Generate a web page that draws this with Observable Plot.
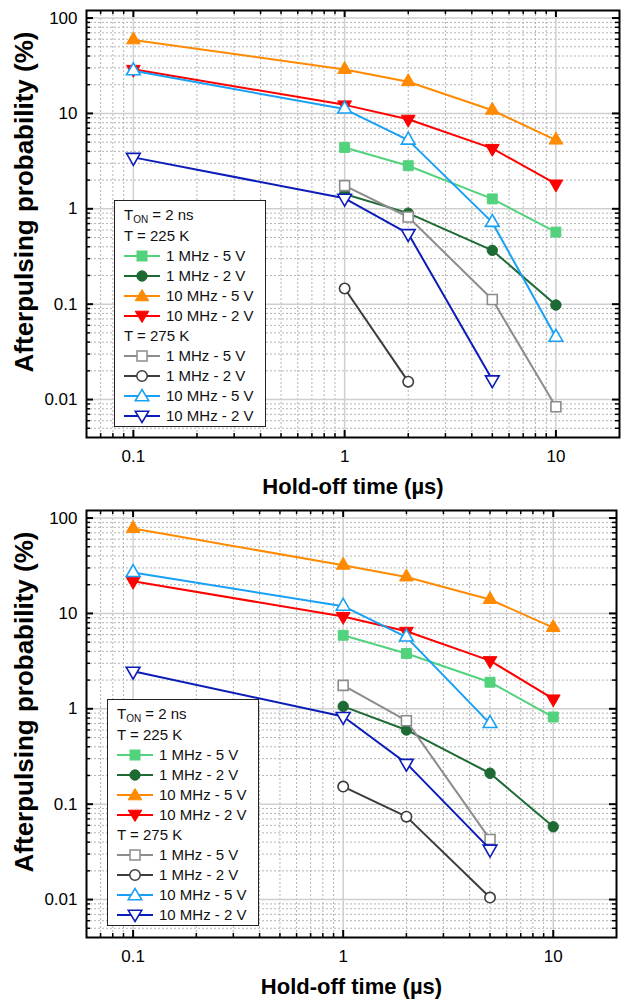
<!DOCTYPE html>
<html><head><meta charset="utf-8">
<script src="https://cdn.jsdelivr.net/npm/d3@7"></script>
<script src="https://cdn.jsdelivr.net/npm/@observablehq/plot@0.6"></script>
<style>
body{margin:0;background:#fff;font-family:"Liberation Sans",Arial,sans-serif;}
.panel{position:relative;width:633px;height:500px;}
.panel svg{display:block;}
.legend{position:absolute;background:#fff;border:1px solid #222;box-sizing:border-box;font-size:15px;color:#111;width:152px;height:227px;}
.legend .row{position:absolute;left:9px;height:20px;line-height:20px;white-space:nowrap;}
.legend .row svg{position:absolute;left:0;top:2px;}
.legend .row span.lbl{position:absolute;left:42px;top:0;}
.legend sub{font-size:10px;vertical-align:-3px;}
</style></head><body>
<div id="top" class="panel"></div>
<div id="bottom" class="panel"></div>
<script>
// ---- data ----
const holdOff = [0.1, 1, 2, 5, 10];
const seriesLabels = ["1 MHz - 5 V", "1 MHz - 2 V", "10 MHz - 5 V", "10 MHz - 2 V"];
const tempLabels = ["T = 225 K", "T = 275 K"];
const colors225 = ["#52d27c", "#1e6a34", "#ff8a00", "#ff0000"];
const colors275 = ["#8c8c8c", "#3c3c3c", "#18a0f5", "#0c1cb8"];
const symbolNames = ["square", "circle", "triangle", "triangleDown"];
const xTickValues = [0.1, 1, 10];
const yTickValues = [0.01, 0.1, 1, 10, 100];

// top panel (%), null = no measurement
const top225_1MHz_5V  = [null, 4.4, 2.83, 1.27, 0.57];
const top225_1MHz_2V  = [null, 1.43, 0.90, 0.367, 0.098];
const top225_10MHz_5V = [59, 28.9, 21.5, 10.8, 5.25];
const top225_10MHz_2V = [29, 12.3, 8.7, 4.3, 1.82];
const top275_1MHz_5V  = [null, 1.75, 0.82, 0.112, 0.0084];
const top275_1MHz_2V  = [null, 0.146, 0.0154, null, null];
const top275_10MHz_5V = [28, 11.1, 5.25, 0.72, 0.045];
const top275_10MHz_2V = [3.46, 1.29, 0.55, 0.0161, null];

// bottom panel (%)
const bot225_1MHz_5V  = [null, 5.9, 3.8, 1.9, 0.82];
const bot225_1MHz_2V  = [null, 1.06, 0.60, 0.211, 0.058];
const bot225_10MHz_5V = [77.8, 32, 24.1, 14, 7.1];
const bot225_10MHz_2V = [21.7, 9.3, 6.5, 3.2, 1.27];
const bot275_1MHz_5V  = [null, 1.76, 0.75, 0.0427, null];
const bot275_1MHz_2V  = [null, 0.153, 0.074, 0.0105, null];
const bot275_10MHz_5V = [26.8, 11.9, 5.65, 0.70, null];
const bot275_10MHz_2V = [2.48, 0.83, 0.268, 0.0338, null];

// ---- helpers ----
const triangleDown = {
  draw(ctx, size) {
    const y = Math.sqrt(size / (3 * Math.sqrt(3))), s3 = Math.sqrt(3);
    ctx.moveTo(0, 2 * y); ctx.lineTo(-s3 * y, -y); ctx.lineTo(s3 * y, -y); ctx.closePath();
  }
};
function symbolOf(name) { return name === "triangleDown" ? triangleDown : name; }
function radiusOf(name) { return name === "square" ? 5.6 : name === "circle" ? 5.2 : 5.1; }

const minorX = [];
for (const d of [0.01, 0.1, 1, 10]) for (let k = 2; k <= 9; k++) { const v = +(k * d).toPrecision(3); if (v > 0.06 && v < 20) minorX.push(v); }
const minorY = [];
for (const d of [0.001, 0.01, 0.1, 1, 10]) for (let k = 2; k <= 9; k++) { const v = +(k * d).toPrecision(3); if (v > 0.004 && v < 120) minorY.push(v); }

function makeSeries(arrays225, arrays275) {
  const out = [];
  [[arrays225, colors225, true], [arrays275, colors275, false]].forEach(([arrs, cols, filled]) => {
    arrs.forEach((vals, i) => {
      const rows = holdOff.map((t, j) => ({t, v: vals[j]})).filter(d => d.v != null);
      out.push({rows, color: cols[i], symbol: symbolNames[i], filled});
    });
  });
  return out;
}

function drawPanel(el, series, m) {
  const W = 633, H = 500;
  const plotW = W - m.left - m.right, plotH = H - m.top - m.bottom;
  const font = '"Liberation Sans", Arial, sans-serif';
  const marks = [
    Plot.ruleX(minorX, {x: d => d, stroke: "#b4b4b4", strokeWidth: 1, strokeDasharray: "2,2"}),
    Plot.ruleY(minorY, {y: d => d, stroke: "#b4b4b4", strokeWidth: 1, strokeDasharray: "2,2"}),
    Plot.ruleX(xTickValues, {x: d => d, stroke: "#cfcfcf", strokeWidth: 1.5}),
    Plot.ruleY(yTickValues, {y: d => d, stroke: "#cfcfcf", strokeWidth: 1.5})
  ];
  for (const s of series) {
    marks.push(Plot.line(s.rows, {x: "t", y: "v", stroke: s.color, strokeWidth: 2}));
    marks.push(Plot.dot(s.rows, {x: "t", y: "v", symbol: symbolOf(s.symbol), r: radiusOf(s.symbol),
      fill: s.filled ? s.color : "white", stroke: s.color, strokeWidth: s.filled ? 1 : 1.6}));
  }
  marks.push(
    Plot.frame({stroke: "#000", strokeWidth: 2}),
    // inward ticks on four sides
    Plot.tickX(xTickValues, {x: d => d, insetTop: plotH - 7, stroke: "#000", strokeWidth: 2}),
    Plot.tickX(xTickValues, {x: d => d, insetBottom: plotH - 7, stroke: "#000", strokeWidth: 2}),
    Plot.tickX(minorX, {x: d => d, insetTop: plotH - 4, stroke: "#000", strokeWidth: 1.5}),
    Plot.tickX(minorX, {x: d => d, insetBottom: plotH - 4, stroke: "#000", strokeWidth: 1.5}),
    Plot.tickY(yTickValues, {y: d => d, insetRight: plotW - 7, stroke: "#000", strokeWidth: 2}),
    Plot.tickY(yTickValues, {y: d => d, insetLeft: plotW - 7, stroke: "#000", strokeWidth: 2}),
    Plot.tickY(minorY, {y: d => d, insetRight: plotW - 4, stroke: "#000", strokeWidth: 1.5}),
    Plot.tickY(minorY, {y: d => d, insetLeft: plotW - 4, stroke: "#000", strokeWidth: 1.5}),
    Plot.axisX({ticks: xTickValues, tickSize: 0, tickPadding: 12, tickFormat: d => String(d), label: null, fontSize: 17}),
    Plot.axisY({ticks: yTickValues, tickSize: 0, tickPadding: 9, tickFormat: d => String(d), label: null, fontSize: 17}),
    Plot.text(["Hold-off time (µs)"], {frameAnchor: "bottom", dy: 56, textAnchor: "middle", fontSize: 22, fontWeight: "bold", fill: "#000"}),
    Plot.text(["Afterpulsing probability (%)"], {frameAnchor: "left", dx: -62, dy: -22, textAnchor: "middle", rotate: -90, fontSize: 26, fontWeight: "bold", fill: "#000"})
  );
  const svg = Plot.plot({
    width: W, height: H,
    marginLeft: m.left, marginRight: m.right, marginTop: m.top, marginBottom: m.bottom,
    style: {fontFamily: font, fontSize: "17px", color: "#000", background: "#fff", overflow: "visible"},
    x: {type: "log", domain: [0.06, 20]},
    y: {type: "log", domain: [0.004, 120]},
    marks
  });
  el.appendChild(svg);
}

function swatch(color, sym, filled) {
  const f = filled ? color : "white";
  const sw = filled ? 1 : 1.5;
  let shape;
  if (sym === "square") shape = `<rect x="13" y="3" width="10" height="10" fill="${f}" stroke="${color}" stroke-width="${sw}"/>`;
  else if (sym === "circle") shape = `<circle cx="18" cy="8" r="5.2" fill="${f}" stroke="${color}" stroke-width="${sw}"/>`;
  else if (sym === "triangle") shape = `<path d="M18,1.5L24.8,12.8L11.2,12.8Z" fill="${f}" stroke="${color}" stroke-width="${sw}"/>`;
  else shape = `<path d="M18,14.5L24.8,3.2L11.2,3.2Z" fill="${f}" stroke="${color}" stroke-width="${sw}"/>`;
  return `<svg width="38" height="16"><line x1="0" y1="8" x2="36" y2="8" stroke="${color}" stroke-width="2"/>${shape}</svg>`;
}

function drawLegend(el, left, top) {
  const div = document.createElement("div");
  div.className = "legend";
  div.style.left = left + "px"; div.style.top = top + "px";
  let html = `<div class="row" style="top:4px">T<sub>ON</sub> = 2 ns</div>`;
  let y = 25;
  [[colors225, true], [colors275, false]].forEach(([cols, filled], g) => {
    html += `<div class="row" style="top:${y}px">${tempLabels[g]}</div>`; y += 20;
    seriesLabels.forEach((lab, i) => {
      html += `<div class="row" style="top:${y}px">${swatch(cols[i], symbolNames[i], filled)}<span class="lbl">${lab}</span></div>`;
      y += 20;
    });
  });
  div.innerHTML = html;
  el.appendChild(div);
}

const topSeries = makeSeries(
  [top225_1MHz_5V, top225_1MHz_2V, top225_10MHz_5V, top225_10MHz_2V],
  [top275_1MHz_5V, top275_1MHz_2V, top275_10MHz_5V, top275_10MHz_2V]);
const botSeries = makeSeries(
  [bot225_1MHz_5V, bot225_1MHz_2V, bot225_10MHz_5V, bot225_10MHz_2V],
  [bot275_1MHz_5V, bot275_1MHz_2V, bot275_10MHz_5V, bot275_10MHz_2V]);

drawPanel(document.getElementById("top"), topSeries, {left: 86, right: 14, top: 10, bottom: 63});
drawPanel(document.getElementById("bottom"), botSeries, {left: 86, right: 17, top: 10, bottom: 63});
drawLegend(document.getElementById("top"), 114, 200);
drawLegend(document.getElementById("bottom"), 107, 199);
</script>
</body></html>
